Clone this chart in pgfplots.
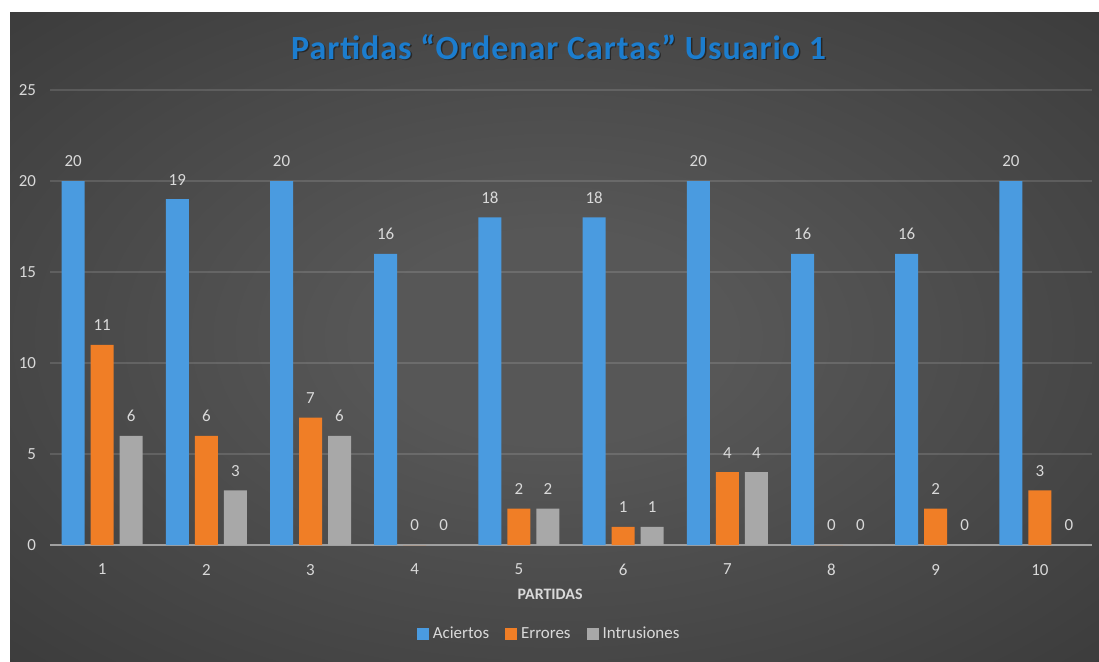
\documentclass[border=0pt]{standalone}
\usepackage{pgfplots}
\pgfplotsset{compat=1.18}
\usepackage{pgfplotstable}
\usepackage{fontspec}
\setmainfont{Carlito}
\newfontfamily\titlefont[LetterSpace=3]{Carlito}
\definecolor{cblue}{HTML}{4A9BE0}
\definecolor{corange}{HTML}{F07E26}
\definecolor{cgray}{HTML}{A8A8A8}
\definecolor{txt}{HTML}{D9D9D9}
\definecolor{zline}{HTML}{A0A0A0}
\definecolor{bgin}{HTML}{575757}
\definecolor{bgout}{HTML}{2C2C2C}
\definecolor{ttl}{HTML}{1C7DCE}
\pgfdeclareradialshading{bgshade}{\pgfpoint{0bp}{0bp}}{color(0bp)=(bgin); color(8bp)=(bgin); color(52bp)=(bgout); color(75bp)=(bgout)}

\pgfplotstableread{
x a e i
1 20 11 6
2 19 6 3
3 20 7 6
4 16 0 0
5 18 2 2
6 18 1 1
7 20 4 4
8 16 0 0
9 16 2 0
10 20 3 0
}\datatable

\begin{document}
\begin{tikzpicture}
\fill[white] (0bp,0bp) rectangle (549.5bp,-331bp);
\shade[shading=bgshade] (5bp,-6bp) rectangle (549.5bp,-331bp);
\node[font=\titlefont\fontsize{17}{19}\selectfont\bfseries, text=black, opacity=0.45] at (280bp,-24.2bp) {Partidas “Ordenar Cartas” Usuario 1};
\node[font=\titlefont\fontsize{17}{19}\selectfont\bfseries, text=ttl] at (279.3bp,-23.5bp) {Partidas “Ordenar Cartas” Usuario 1};
\begin{axis}[
  at={(25bp,-272.5bp)}, anchor=south west,
  scale only axis, width=521bp, height=227.5bp,
  ybar=3bp, bar width=11.5bp,
  xmin=0.5, xmax=10.5, ymin=0, ymax=25,
  xtick={1,...,10}, ytick={0,5,...,25},
  axis x line*=bottom, axis y line*=left,
  y axis line style={draw=none},
  x axis line style={draw=zline, line width=1bp, -},
  major tick length=0pt,
  ymajorgrids, grid style={draw=white, opacity=0.13, line width=0.8bp},
  /pgf/number format/assume math mode=true,
  tick label style={text=txt, font=\fontsize{8.5}{10}\selectfont},
  xticklabel style={yshift=-6bp},
  yticklabel style={xshift=-3.5bp},
  xlabel={PARTIDAS},
  xlabel style={at={(axis description cs:0.48,-0.108)}, anchor=center, text=txt, font=\fontsize{8}{10}\selectfont\bfseries},
  nodes near coords,
  every node near coord/.append style={text=txt, font=\fontsize{8.5}{10}\selectfont, yshift=3.5bp},
  legend columns=3,
  legend style={at={(0.48,-0.196)}, anchor=center, draw=none, fill=none, text=txt, font=\fontsize{8.5}{10}\selectfont, /tikz/every even column/.append style={column sep=6bp}},
  legend image code/.code={\fill[#1] (0bp,-3bp) rectangle (6bp,3bp);},
]
\addplot[fill=cblue, draw=none] table[x=x, y=a] {\datatable};
\addplot[fill=corange, draw=none] table[x=x, y=e] {\datatable};
\addplot[fill=cgray, draw=none] table[x=x, y=i] {\datatable};
\legend{Aciertos, Errores, Intrusiones}
\end{axis}
\end{tikzpicture}
\end{document}
